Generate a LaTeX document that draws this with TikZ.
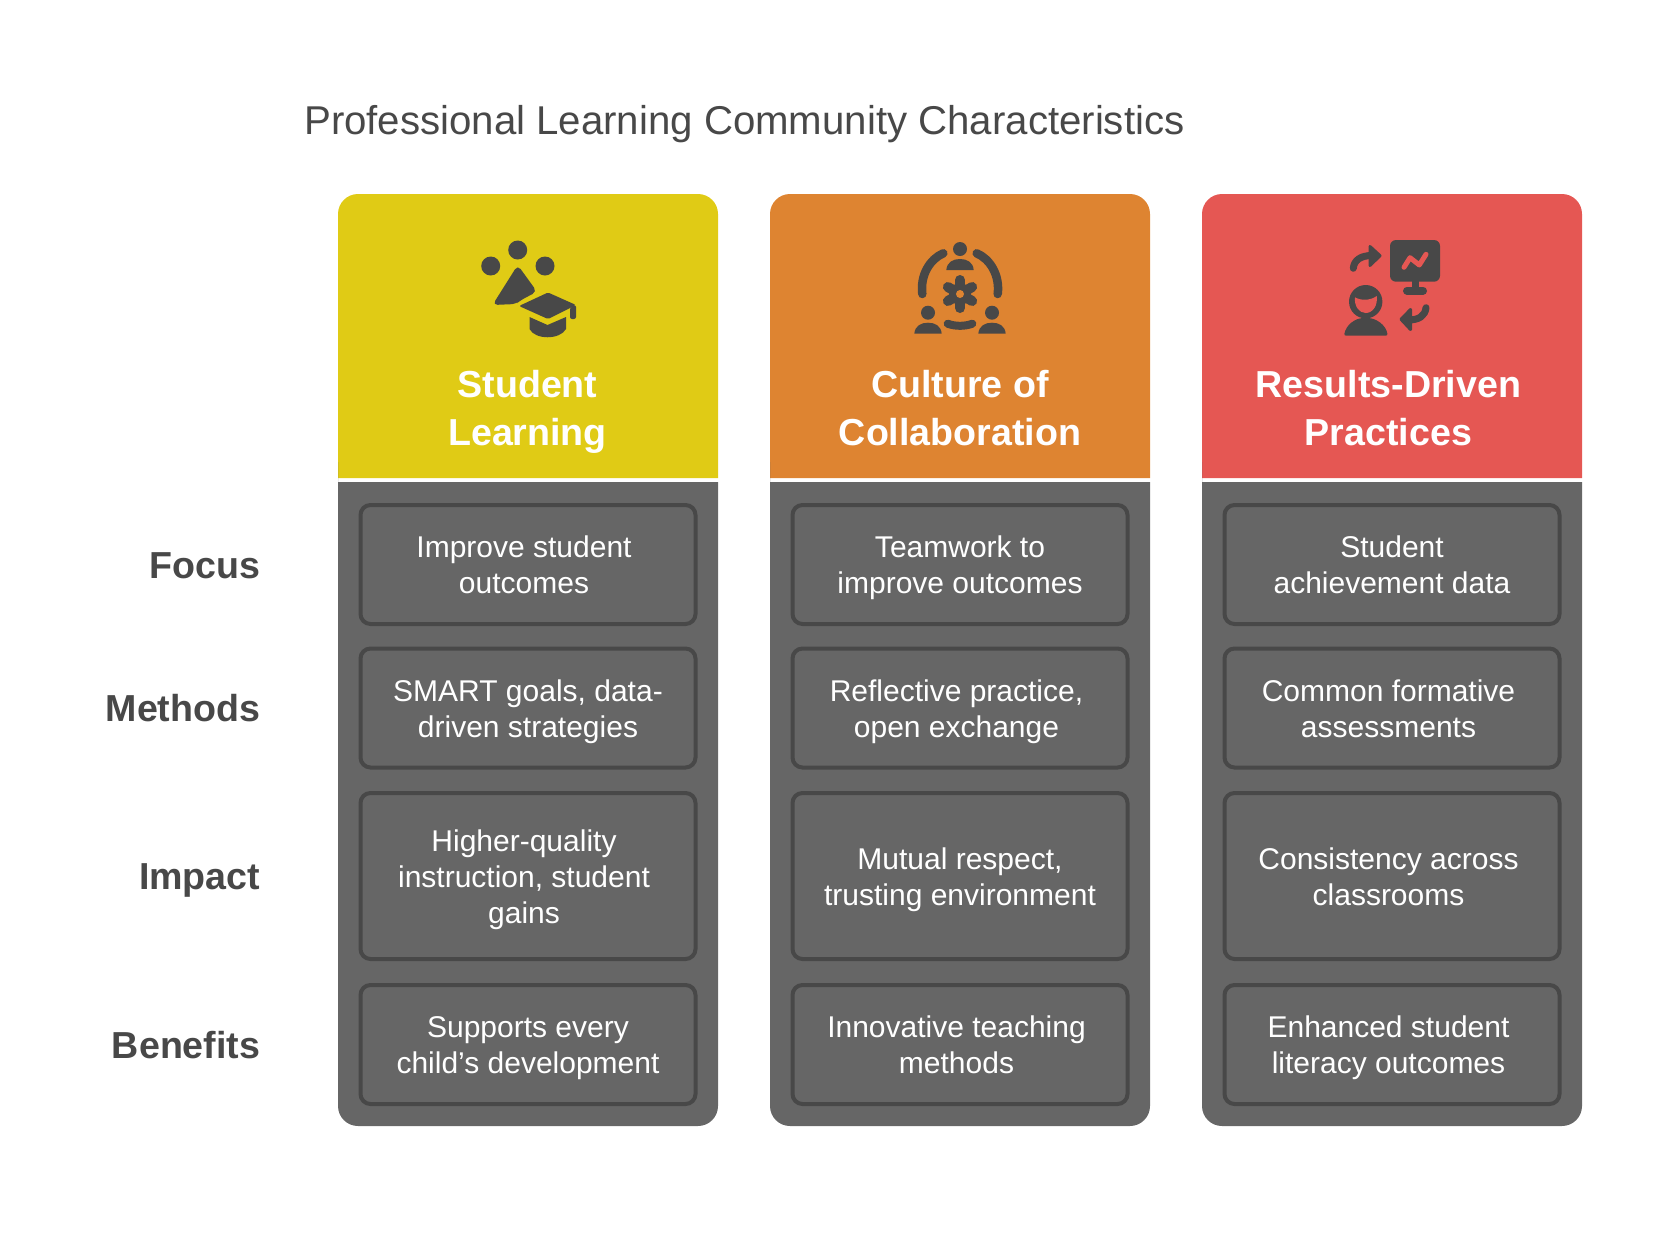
\documentclass[tikz,border=0pt]{standalone}
\usepackage{fontspec}
\setmainfont{Liberation Sans}
\definecolor{learnyellow}{HTML}{E0CB15}
\definecolor{collaborange}{HTML}{DE8431}
\definecolor{resultred}{HTML}{E55753}
\definecolor{bodygray}{HTML}{666666}
\definecolor{inkgray}{HTML}{484848}
\tikzset{
  rowbox/.style={draw=inkgray,line width=4pt,rounded corners=10pt,inner sep=0pt,minimum width=335pt},
  celltext/.style={text=white,align=center,inner sep=0pt,text height=58pt,text depth=0pt,font=\fontsize{30}{36}\selectfont},
  headtext/.style={text=white,align=center,inner sep=0pt,text height=76pt,text depth=0pt,font=\bfseries\fontsize{37.6}{48}\selectfont},
  rowlabel/.style={text=inkgray,anchor=east,inner sep=0pt,text height=27pt,text depth=0pt,font=\bfseries\fontsize{37.6}{44}\selectfont},
  iconline/.style={draw=inkgray,line cap=round,line join=round},
}

\begin{document}
\begin{tikzpicture}[x=1pt,y=-1pt]
  \useasboundingbox (0,0) rectangle (1680,1248);

  \node[name=title,anchor=west,inner sep=0pt,text=inkgray,text height=29pt,text depth=0pt,font=\fontsize{40.2}{44}\selectfont] at (304,120) {Professional Learning Community Characteristics};

  % column headers
  \fill[learnyellow] (338,478) [rounded corners=20pt] -- (338,194) -- (718,194) [sharp corners] -- (718,478) -- cycle;
  \fill[collaborange] (770,478) [rounded corners=20pt] -- (770,194) -- (1150,194) [sharp corners] -- (1150,478) -- cycle;
  \fill[resultred] (1202,478) [rounded corners=20pt] -- (1202,194) -- (1582,194) [sharp corners] -- (1582,478) -- cycle;
  \node[name=headA,headtext] at (527.5,407) {Student\\Learning};
  \node[name=headB,headtext] at (960,407) {Culture of\\Collaboration};
  \node[name=headC,headtext] at (1388.5,407) {Results-Driven\\Practices};

  % column bodies
  \fill[bodygray] (338,482) -- (718,482) [rounded corners=20pt] -- (718,1126) -- (338,1126) -- (338,482) [sharp corners] -- cycle;
  \fill[bodygray] (770,482) -- (1150,482) [rounded corners=20pt] -- (1150,1126) -- (770,1126) -- (770,482) [sharp corners] -- cycle;
  \fill[bodygray] (1202,482) -- (1582,482) [rounded corners=20pt] -- (1582,1126) -- (1202,1126) -- (1202,482) [sharp corners] -- cycle;

  % row boxes
  \foreach \col/\cx in {A/528,B/960,C/1392} {
    \node[name=focus\col,rowbox,minimum height=119pt] at (\cx,564.5) {};
    \node[name=methods\col,rowbox,minimum height=119pt] at (\cx,708) {};
    \node[name=impact\col,rowbox,minimum height=166pt] at (\cx,876) {};
    \node[name=benefits\col,rowbox,minimum height=119pt] at (\cx,1044.5) {};
  }

  % row labels
  \node[name=focus,rowlabel] at (260.5,564.5) {Focus};
  \node[name=methods,rowlabel] at (260.5,708) {Methods};
  \node[name=impact,rowlabel] at (260.5,876) {Impact};
  \node[name=benefits,rowlabel] at (260.5,1044.5) {Benefits};

  % cell texts
  \node[name=a1,celltext] at ([xshift=-4pt]focusA.center) {Improve student\\outcomes};
  \node[name=a2,celltext] at (methodsA.center) {SMART goals, data-\\driven strategies};
  \node[name=a3,celltext,text height=94pt] at ([xshift=-4pt]impactA.center) {Higher-quality\\instruction, student\\gains};
  \node[name=a4,celltext] at (benefitsA.center) {Supports every\\child’s development};

  \node[name=b1,celltext] at (focusB.center) {Teamwork to\\improve outcomes};
  \node[name=b2,celltext] at ([xshift=-3.5pt]methodsB.center) {Reflective practice,\\open exchange};
  \node[name=b3,celltext] at (impactB.center) {Mutual respect,\\trusting environment};
  \node[name=b4,celltext] at ([xshift=-3.5pt]benefitsB.center) {Innovative teaching\\methods};

  \node[name=c1,celltext] at (focusC.center) {Student\\achievement data};
  \node[name=c2,celltext] at ([xshift=-3.5pt]methodsC.center) {Common formative\\assessments};
  \node[name=c3,celltext] at ([xshift=-3.5pt]impactC.center) {Consistency across\\classrooms};
  \node[name=c4,celltext] at ([xshift=-3.5pt]benefitsC.center) {Enhanced student\\literacy outcomes};

  % icon: student learning
  \fill[inkgray] (517.7,250) circle (9.5pt) (490.7,266) circle (9.5pt) (545,266) circle (9.5pt);
  \fill[inkgray,rounded corners=5pt] (517.7,265) -- (492.5,305) -- (516,304) -- (521,300) -- (537,291.7) -- cycle;
  \fill[inkgray,rounded corners=1.5pt] (519,306) -- (548,292.5) -- (576,305) -- (548,319) -- cycle;
  \fill[inkgray,rounded corners=2pt] (576,305) -- (576,319) -- (570,319) -- (570,307) -- cycle;
  \fill[inkgray] (529.5,317) -- (547.5,325) -- (566,317) -- (566,329) .. controls (560,340) and (535,340) .. (529.5,329) -- cycle;

  % icon: culture of collaboration
  \fill[inkgray] (960,249) circle (7pt) (928,312.7) circle (7pt) (992,312.7) circle (7pt);
  \fill[inkgray] (946.3,270) .. controls (947,262) and (953,259) .. (960,259) .. controls (967,259) and (973,262) .. (973.7,270) -- cycle;
  \fill[inkgray] (914.3,333.7) .. controls (915,325.7) and (921,322.7) .. (928,322.7) .. controls (935,322.7) and (941,325.7) .. (941.7,333.7) -- cycle;
  \fill[inkgray] (978.3,333.7) .. controls (979,325.7) and (985,322.7) .. (992,322.7) .. controls (999,322.7) and (1005,325.7) .. (1005.7,333.7) -- cycle;
  \draw[iconline,line width=8.5pt] (943.3,253.3) .. controls (930,259) and (920,275) .. (922.3,294);
  \draw[iconline,line width=8.5pt] (976.7,253.3) .. controls (990,259) and (1000,275) .. (997.7,294);
  \draw[iconline,line width=8pt] (947.7,323.7) .. controls (955,326.5) and (965,326.5) .. (972.3,323.7);
  \foreach \ang in {30,90,...,330}
    \draw[iconline,line width=10pt] (960,294) -- ++(\ang:14pt);
  \fill[inkgray] (960,294) circle (11pt);
  \fill[collaborange] (960,294) circle (4pt);

  % icon: results-driven practices
  \fill[inkgray,rounded corners=6pt] (1390,240) rectangle (1440,281.7);
  \draw[iconline,line width=7pt] (1415,281) -- (1415,290);
  \draw[iconline,line width=8pt] (1407,290.7) -- (1423,290.7);
  \draw[resultred,line width=5pt,line cap=round,line join=round] (1404,267.3) -- (1410,257.7) -- (1419.3,265) -- (1426,254.3);
  \draw[iconline,line width=7pt] (1353.3,268.3) .. controls (1354,260) and (1361,255.5) .. (1372,255.5);
  \filldraw[iconline,fill=inkgray,line width=3pt] (1370,246.5) -- (1380,255.7) -- (1370,265.5) -- cycle;
  \draw[iconline,line width=7pt] (1426,307.7) .. controls (1425,316) and (1419,320) .. (1408,320);
  \filldraw[iconline,fill=inkgray,line width=3pt] (1410.5,309.5) -- (1401,319.3) -- (1410.5,329.5) -- cycle;
  \fill[inkgray] (1365.7,301.7) circle (16.7pt);
  \fill[resultred] (1355,297.3) .. controls (1360,300.5) and (1370,301) .. (1376.7,296) .. controls (1378,305) and (1373,313) .. (1365.7,313) .. controls (1359,313) and (1354,306) .. (1355,297.3) -- cycle;
  \fill[inkgray,rounded corners=2pt] (1344,335.7) .. controls (1346,325) and (1355,318) .. (1365.7,318) .. controls (1376,318) and (1386,325) .. (1387.7,335.7) -- cycle;
\end{tikzpicture}
\end{document}
